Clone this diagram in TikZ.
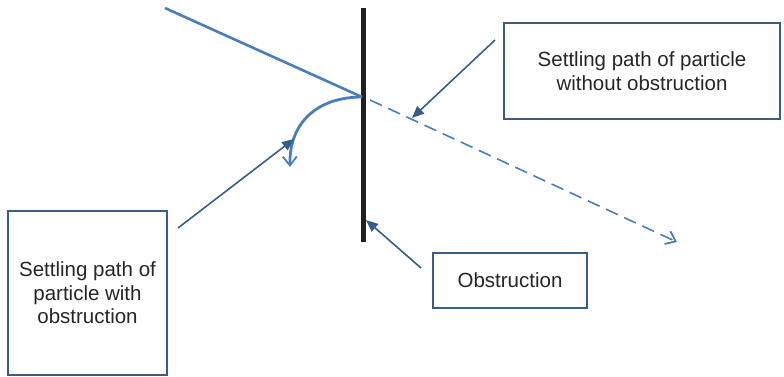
\documentclass[tikz,border=0pt]{standalone}
\usepackage{fontspec}
\setmainfont{Liberation Sans}
\usetikzlibrary{arrows.meta}
\definecolor{pathblue}{HTML}{4A7EBB}
\definecolor{darkblue}{HTML}{385D8A}
\definecolor{obsblack}{HTML}{231F20}
\begin{document}
\begin{tikzpicture}[x=1pt,y=-1pt,
  textbox/.style={draw=darkblue,line width=1.3pt,fill=white,inner sep=0pt,align=center,
    font=\fontsize{20.5}{23.5}\selectfont,text=black!85},
  pointer/.style={draw=darkblue,line width=1.6pt,-{Triangle[length=12pt,width=10pt]}},
  settle/.style={draw=pathblue,line width=2.6pt},
  openarrow/.style={-{Straight Barb[length=9pt,width=14pt,line width=1.8pt]}}]
\useasboundingbox (0,0) rectangle (784,376);
% boxes
\node[textbox,minimum width=276pt,minimum height=96pt] (without) at (642,71)
  {Settling path of particle\\ without obstruction};
\node[textbox,minimum width=159pt,minimum height=164pt] (with) at (87.5,293)
  {Settling path of\\particle with\\obstruction};
\node[textbox,minimum width=154pt,minimum height=55pt] (obs) at (510,280.5) {Obstruction};
% obstruction wall
\coordinate (walltop) at (363,8);
\coordinate (wallbot) at (363,242);
\draw[obsblack,line width=5pt] (walltop) -- (wallbot);
% settling paths
\coordinate (start) at (165,8);
\coordinate (hit) at (362,97);
\coordinate (dstart) at (370,100);
\coordinate (dend) at (677,242);
\coordinate (aend) at (290,167);
\draw[settle] (start) -- (hit);
\draw[pathblue,line width=1.6pt,dash pattern=on 13pt off 7pt,openarrow] (dstart) -- (dend);
\draw[pathblue,line width=2.8pt,openarrow] (hit) .. controls (318,97) and (289,122) .. (aend);
% pointers
\coordinate (p1s) at (495,40);
\coordinate (p1e) at (412,118);
\coordinate (p2s) at (178,228);
\coordinate (p2e) at (294,139);
\coordinate (p3s) at (421,268);
\coordinate (p3e) at (366,220);
\draw[pointer] (p1s) -- (p1e);
\draw[pointer] (p2s) -- (p2e);
\draw[pointer] (p3s) -- (p3e);
\end{tikzpicture}
\end{document}
